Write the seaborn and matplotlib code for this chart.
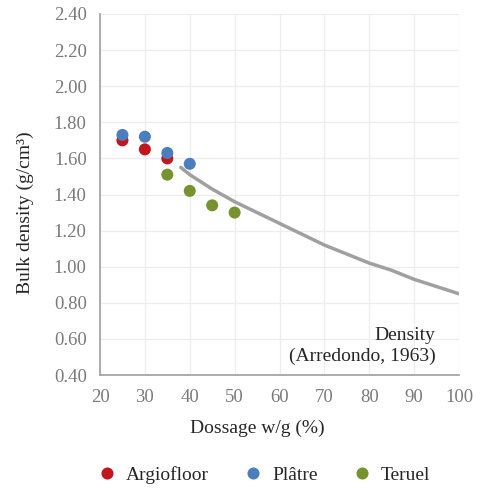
import matplotlib
matplotlib.use("Agg")
import matplotlib.pyplot as plt
import seaborn as sns
import pandas as pd

sns.set_theme(style="whitegrid")
plt.rcParams['font.family'] = ['Liberation Serif', 'DejaVu Serif']

argio_x = [25, 30, 35]
argio_y = [1.70, 1.65, 1.60]
platre_x = [25, 30, 35, 40]
platre_y = [1.73, 1.72, 1.63, 1.57]
teruel_x = [35, 40, 45, 50]
teruel_y = [1.51, 1.42, 1.34, 1.30]
curve_x = [38, 40, 45, 50, 55, 60, 65, 70, 75, 80, 85, 90, 95, 100]
curve_y = [1.55, 1.51, 1.43, 1.36, 1.30, 1.24, 1.18, 1.12, 1.07, 1.02, 0.98, 0.93, 0.89, 0.85]

series = ["Argiofloor", "Plâtre", "Teruel"]
colors = ["#C0161C", "#4A7EBF", "#76932F"]

df = pd.DataFrame({
    "x": argio_x + platre_x + teruel_x,
    "y": argio_y + platre_y + teruel_y,
    "s": [series[0]] * len(argio_x) + [series[1]] * len(platre_x) + [series[2]] * len(teruel_x),
})

W, H = 483, 488
fig = plt.figure(figsize=(W / 100, H / 100), dpi=100)
L, R, T, B = 100, 459, 14, 375
ax = fig.add_axes([L / W, 1 - B / H, (R - L) / W, (B - T) / H])

sns.lineplot(x=curve_x, y=curve_y, ax=ax, color="#A0A0A0", linewidth=2.5, zorder=2)
sns.scatterplot(data=df, x="x", y="y", hue="s", palette=dict(zip(series, colors)),
                s=75, edgecolor="none", ax=ax, zorder=3, legend=True)

ax.set_xlim(20, 100)
ax.set_ylim(0.4, 2.4)
ax.set_xticks(range(20, 101, 10))
ax.set_yticks([0.4 + 0.2 * i for i in range(11)])
ax.set_yticklabels([f"{0.4 + 0.2 * i:.2f}" for i in range(11)])
ax.grid(True, color="#EDEDED", linewidth=0.9)
for side in ["top", "right"]:
    ax.spines[side].set_visible(False)
for side in ["left", "bottom"]:
    ax.spines[side].set_color("#A6A6A6")
    ax.spines[side].set_linewidth(1.3)
ax.tick_params(axis="both", labelsize=13.5, labelcolor="#7A7A7A", length=3.6,
               color="#A6A6A6", width=1, direction="out")
ax.tick_params(axis="y", pad=6)
ax.tick_params(axis="x", pad=6.5)
ax.set_xlabel("Dossage w/g (%)", fontsize=14, color="#262626")
ax.set_ylabel("Bulk density (g/cm³)", fontsize=14, color="#262626")
ax.xaxis.set_label_coords((257.5 - L) / (R - L), (B - 420) / (B - T))
ax.yaxis.set_label_coords((34 - L) / (R - L), (B - 213) / (B - T))

ax.text(94.8, 0.455, "Density\n(Arredondo, 1963)", ha="right", va="bottom",
        fontsize=14, color="#262626", linespacing=1.25)

handles, labels = ax.get_legend_handles_labels()
ax.legend(handles, labels, loc="center left", bbox_to_anchor=(97 / W, 1 - 475 / H),
          bbox_transform=fig.transFigure, ncol=3, frameon=False, fontsize=14,
          handlelength=1.0, handletextpad=0.5, columnspacing=1.75,
          borderpad=0, borderaxespad=0, labelcolor="#262626", markerscale=1.0)

fig.savefig("out.png", dpi=100)
